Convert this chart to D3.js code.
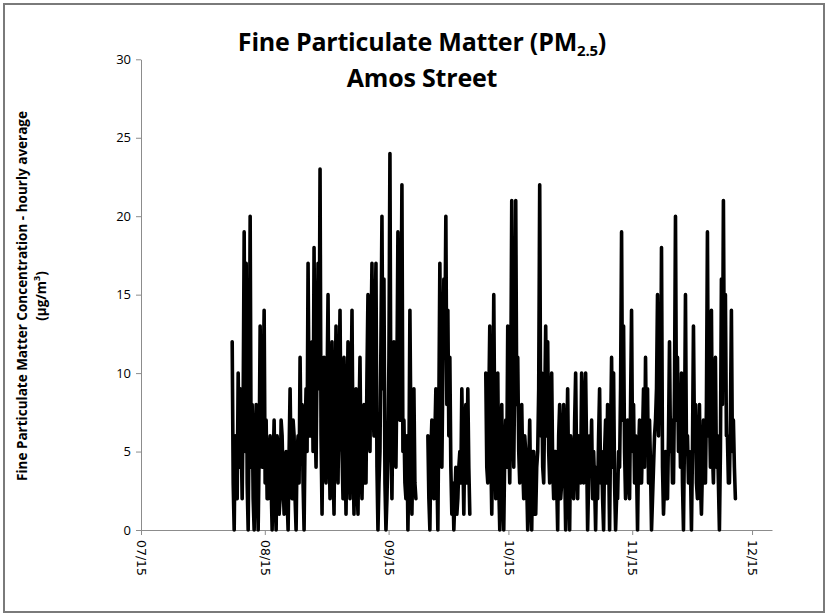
<!DOCTYPE html>
<html><head><meta charset="utf-8">
<script src="https://cdn.jsdelivr.net/npm/d3@7"></script>
<style>body{margin:0;background:#fff}svg{display:block}</style>
</head><body><svg id="c" width="828" height="616"></svg>
<script>
// ---- data (one reading every 6 hours) ----
const seriesStart = "2011-08-06T20:00";
const stepHours = 6;
const pm25 = [
// early Aug
12,3, 0,6, 4,2, 10,4, 9,6, 2,8, 19,5, 17,3, 0,7, 20,4, 8,2, 0,6, 8,3, 0,5, 13,6, 4,9, 14,3, 7,2, 2,5, 6,3,
0,4, 7,2, 0,6, 5,1, 2,7, 6,3, 1,4, 5,2, 0,5, 9,4, 2,7, 6,2, 0,5, 6,3, 11,5, 8,3, 0,6, 9,5,
// late Aug
17,8, 6,10, 12,5, 18,7, 4,11, 17,9, 23,6, 1,8, 11,4, 3,9, 15,6, 2,7, 12,4, 1,8, 13,5, 3,9, 14,6, 5,2, 11,6, 1,7,
12,4, 2,8, 14,5, 1,6, 9,3, 1,7, 11,4, 2,6, 8,3, 3,10, 15,7, 5,12, 17,8, 6,13, 17,4, 0,3, 5,12, 20,9, 16,3, 0,2, 5,11, 24,6,
// Sep
2,8, 12,5, 4,10, 19,8, 7,12, 22,5, 7,3, 2,6, 0,4, 14,6, 1,5, 9,3, 2,null,
null,null, null,null, null,null, null,null, null,null,
6,2, 0,5, 7,3, 2,6, 9,4, 0,8, 17,9, 4,10, 16,12, 20,8, 14,6, 11,4, 1,3, 0,2, 4,1, 2,4, 5,3, 9,5, 1,6, 8,3, 9,4, 1,null,
null,null, null,null, null,null, null,null, null,null, null,null, null,null,
// Oct
10,4, 3,8, 13,5, 1,7, 15,6, 2,5, 10,3, 0,6, 8,2, 0,5, 7,4, 13,6, 3,9, 21,7, 4,10, 21,8, 11,5, 3,7, 8,4, 2,6,
5,3, 0,4, 7,2, 0,5, 5,1, 1,4, 5,9, 22,6, 10,4, 3,8, 13,6, 12,5, 3,7, 10,4, 2,5, 5,3, 0,6, 8,2, 3,6, 8,4,
0,5, 9,3, 0,6, 5,3, 2,7, 10,4, 2,6, 5,3, 10,6, 3,8, 10,5, 0,3, 6,4, 7,2, 5,3, 0,4, 2,6, 9,3, 5,2, 0,5,
7,3, 8,5, 0,6, 11,4, 10,3, 0,2, 2,5, 4,9, 19,7, 13,5, 2,6,
// Nov - Dec
7,3, 2,8, 14,5, 8,3, 6,4, 0,5, 7,3, 3,6, 9,4, 11,5, 9,3, 7,4, 0,2, 4,6, 7,9, 15,6, 10,7, 18,4, 1,3, 5,2,
2,6, 12,5, 7,3, 3,9, 20,7, 11,5, 8,4, 10,3, 0,6, 15,5, 6,3, 5,4, 0,5, 13,6, 8,3, 2,5, 8,3, 1,4, 7,3, 3,8,
19,6, 8,4, 14,5, 3,7, 11,4, 6,3, 0,5, 16,8, 21,9, 15,6, 6,3, 3,7, 14,5, 7,4, 2
];
const xTickLabels = ["07/15","08/15","09/15","10/15","11/15","12/15"];
const xDomain = ["2011-07-15","2011-12-20"];
const yTicks = [0,5,10,15,20,25,30];

// ---- chart ----
const svg = d3.select("#c");
const parse = d3.timeParse("%Y-%m-%d");
const parseT = d3.timeParse("%Y-%m-%dT%H:%M");
const t0 = parseT(seriesStart);
const data = pm25.map((v,i)=>({t:d3.timeHour.offset(t0, i*stepHours), v}));

const x = d3.scaleTime().domain(xDomain.map(parse)).range([141, 772]);
const y = d3.scaleLinear().domain([0,30]).range([530, 59.3]);

svg.append("rect").attr("x",4).attr("y",4).attr("width",820).attr("height",608)
  .attr("fill","#fff").attr("stroke","#7a7a7a").attr("stroke-width",2);

const tickDates = xTickLabels.map(s=>{const [m,d]=s.split("/");return new Date(2011,+m-1,+d);});

// x axis
const gx = svg.append("g").attr("transform","translate(0,530)")
  .call(d3.axisBottom(x).tickValues(tickDates).tickSize(5).tickSizeOuter(0).tickFormat((d,i)=>xTickLabels[i]));
gx.select(".domain").attr("stroke","#8c8c8c");
gx.selectAll(".tick line").attr("stroke","#8c8c8c");
gx.selectAll(".tick text").attr("font-family","'DejaVu Sans', Verdana, sans-serif").attr("font-size",12.5)
  .attr("fill","#000").attr("transform","rotate(90)").attr("text-anchor","start")
  .attr("x",10).attr("y",0).attr("dy","0.35em");

// y axis
const gy = svg.append("g").attr("transform","translate(141,0)")
  .call(d3.axisLeft(y).tickValues(yTicks).tickSize(5).tickSizeOuter(0));
gy.select(".domain").attr("stroke","#8c8c8c");
gy.selectAll(".tick line").attr("stroke","#8c8c8c");
gy.selectAll(".tick text").attr("font-family","'Open Sans', sans-serif").attr("font-size",13).attr("fill","#000").attr("x",-10);

// line
const line = d3.line().defined(d=>d.v!==null).x(d=>x(d.t)).y(d=>y(d.v));
svg.append("path").datum(data).attr("d",line).attr("fill","none")
  .attr("stroke","#000").attr("stroke-width",3.6).attr("stroke-linejoin","round").attr("stroke-linecap","round");

// title
const title = svg.append("text").attr("x",422).attr("y",51).attr("text-anchor","middle")
  .attr("font-family","'Open Sans', sans-serif").attr("font-weight","bold").attr("font-size",25).attr("fill","#000")
  .attr("letter-spacing",-0.2);
title.append("tspan").text("Fine Particulate Matter (PM");
title.append("tspan").attr("font-size",15).attr("dy",5).text("2.5");
title.append("tspan").attr("dy",-5).text(")");
svg.append("text").attr("x",422).attr("y",87).attr("text-anchor","middle")
  .attr("font-family","'Open Sans', sans-serif").attr("font-weight","bold").attr("font-size",25)
  .attr("letter-spacing",-0.2).text("Amos Street");

// y title
const yt = svg.append("g").attr("transform","translate(27,296) rotate(-90)");
yt.append("text").attr("text-anchor","middle").attr("font-family","'Open Sans', sans-serif")
  .attr("font-weight","bold").attr("font-size",13.5).text("Fine Particulate Matter Concentration - hourly average");
const u = yt.append("text").attr("y",19).attr("text-anchor","middle").attr("font-family","'Open Sans', sans-serif")
  .attr("font-weight","bold").attr("font-size",13.5);
u.append("tspan").text("(µg/m");
u.append("tspan").attr("font-size",9).attr("dy",-6).text("3");
u.append("tspan").attr("dy",6).text(")");
</script></body></html>
